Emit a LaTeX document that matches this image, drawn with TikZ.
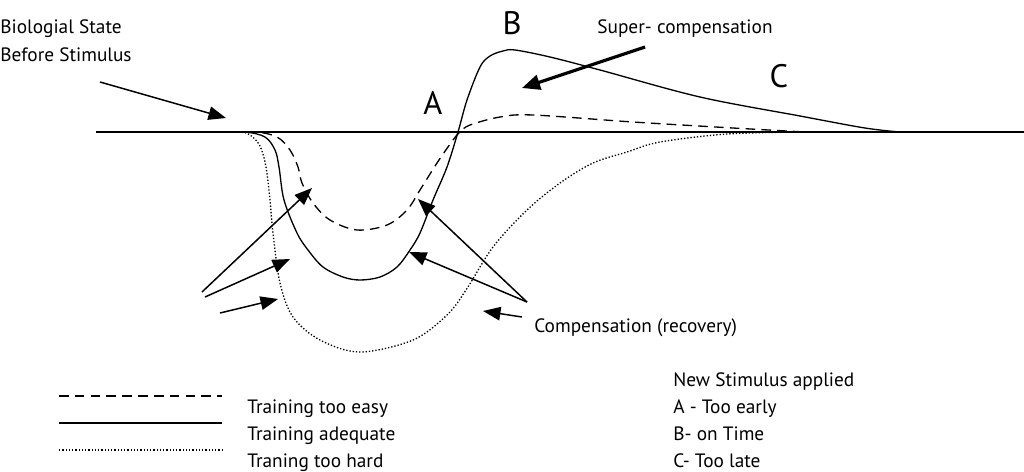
\documentclass[tikz,border=0pt]{standalone}
\usepackage{fontspec}
\setmainfont{PT Sans}
\usetikzlibrary{arrows.meta}
\tikzset{
	curve/.style={line width=0.75pt},
	easycurve/.style={curve, dash pattern=on 5.5pt off 3.5pt},
	hardcurve/.style={curve, dash pattern=on 0.75pt off 1.1pt},
	pointer/.style={-{Triangle[length=3.5mm,width=2.7mm]}, line width=0.85pt},
	bigpointer/.style={-{Triangle[length=3.6mm,width=3mm]}, line width=1.8pt},
	txt/.style={anchor=base west, inner sep=0pt, font=\fontsize{11}{13}\selectfont},
	letter/.style={anchor=base, inner sep=0pt, font=\fontsize{18.5}{22}\selectfont}
}
\begin{document}
\begin{tikzpicture}[x=0.02cm, y=-0.02cm]
	\useasboundingbox (0,0) rectangle (1024,471);
	%
	\def\base{132}
	\def\legx{59}
	\def\legend{222}
	% base line
		\draw[curve] (96,\base) -- (1024,\base);
	% training adequate
		\draw[curve] plot[smooth, tension=0.55] coordinates {(215,\base) (245,\base) (265,137) (275,150) (279,167) (284,200) (297,233) (308,250) (323,267) (343,277) (360,280) (380,277) (397,267) (410,250) (420,233) (433,200) (447,167) (458,\base) (467,100) (480,67) (490,56) (503,51) (515,50) (550,57) (600,70) (700,97) (800,116) (865,128) (900,\base)};
	% training too easy
		\draw[easycurve] plot[smooth, tension=0.55] coordinates {(215,\base) (255,\base) (277,137) (290,150) (298,167) (302,183) (313,203) (330,220) (357,230) (387,225) (407,210) (420,190) (437,163) (453,140) (460,\base) (470,125) (500,117) (533,115) (633,122) (733,128) (805,\base)};
	% training too hard
		\draw[hardcurve] plot[smooth, tension=0.55] coordinates {(193,\base) (238,\base) (250,135) (260,146) (266,167) (270,200) (273,233) (280,283) (293,317) (320,340) (360,352) (413,340) (447,315) (466,290) (493,247) (527,210) (560,183) (593,163) (627,152) (660,142) (727,134) (800,\base)};
	% labels
		\node[txt] (bio) at (0,33) {Biologial State};
		\node[txt] (before) at (0,61) {Before Stimulus};
		\node[txt] (super) at (597,33) {Super- compensation};
		\node[txt] (comp) at (534,332) {Compensation (recovery)};
		\node[letter] (A) at (433,114) {A};
		\node[letter] (B) at (512,34) {B};
		\node[letter] (C) at (779,87) {C};
	% arrows
		\coordinate (bio-tail) at (100,82);
		\coordinate (bio-tip) at (226,118);
		\coordinate (super-tail) at (645,47);
		\coordinate (super-tip) at (522,88);
		\draw[pointer] (bio-tail) -- (bio-tip);
		\draw[bigpointer] (super-tail) -- (super-tip);
		\foreach \name/\tx/\ty/\hx/\hy in {easy/202/292/312/188, adequate/205/297/290/259, hard/220/313/278/299, compa/527/302/418/199, compb/527/302/409/252, compc/522/317/483/311}{
			\coordinate (\name-tail) at (\tx,\ty);
			\coordinate (\name-head) at (\hx,\hy);
			\draw[pointer] (\name-tail) -- (\name-head);
		}
	% legend
		\foreach \y/\sty/\label in {413/easycurve/Training too easy, 440/curve/Training adequate, 467/hardcurve/Traning too hard}{
			\coordinate (leg\y-start) at (\legx,\y-17);
			\coordinate (leg\y-end) at (\legend,\y-17);
			\draw[\sty] (leg\y-start) -- (leg\y-end);
			\node[txt] (leg\y-text) at (247,\y) {\label};
		}
	% new stimulus
		\foreach \y/\label in {386/New Stimulus applied, 413/A - Too early, 440/B- on Time, 467/C- Too late}
			\node[txt] (stim\y) at (673,\y) {\label};
\end{tikzpicture}
\end{document}
